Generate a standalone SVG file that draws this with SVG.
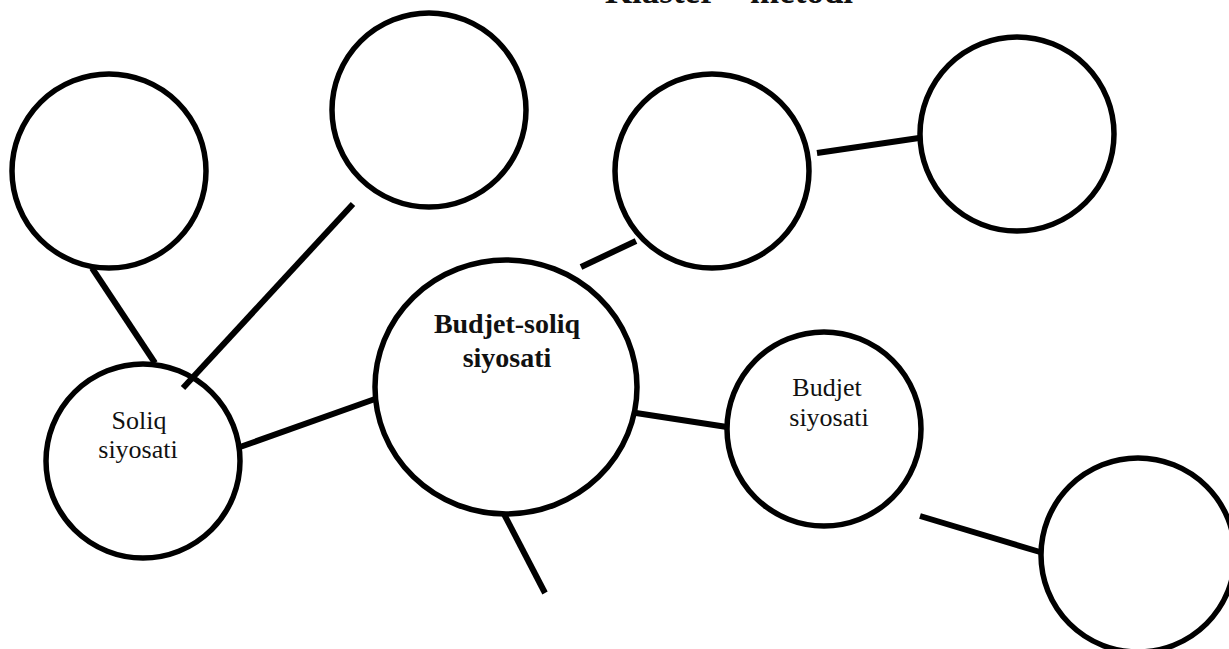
<svg xmlns="http://www.w3.org/2000/svg" width="1229" height="649" viewBox="0 0 1229 649">
<style>
.n{fill:#fff;stroke:#000;stroke-width:5.5}
.c{stroke:#000;stroke-width:6;stroke-linecap:butt}
.t{font-family:"Liberation Serif","Times New Roman",serif;fill:#111;text-anchor:middle}
.b{font-weight:bold;font-size:28px}
.r{font-size:26px}
</style>
<rect width="1229" height="649" fill="#fff"/>
<text class="t b" x="729" y="3" style="font-size:35px">Klaster – metodi</text>
<g id="n1"><circle class="n" cx="109" cy="171" r="97"/></g>
<g id="n2"><circle class="n" cx="429" cy="110" r="97"/></g>
<g id="n3"><circle class="n" cx="712" cy="171" r="97"/></g>
<g id="n4"><circle class="n" cx="1017" cy="134" r="97"/></g>
<g id="n5"><circle class="n" cx="1138" cy="555" r="97"/></g>
<g id="center"><ellipse class="n" cx="506" cy="387" rx="131" ry="127"/>
<text class="t b" x="507" y="333">Budjet-soliq</text>
<text class="t b" x="507" y="367">siyosati</text></g>
<g id="soliq"><circle class="n" cx="143" cy="461" r="97"/>
<text class="t r" x="139" y="429">Soliq</text>
<text class="t r" x="138" y="458">siyosati</text></g>
<g id="budjet"><circle class="n" cx="824" cy="429" r="97"/>
<text class="t r" x="827" y="396">Budjet</text>
<text class="t r" x="829" y="426">siyosati</text></g>
<g id="connectors">
<line class="c" x1="92" y1="268" x2="155" y2="363"/>
<line class="c" x1="353" y1="204" x2="183" y2="388"/>
<line class="c" x1="240" y1="447" x2="375" y2="399"/>
<line class="c" x1="581" y1="267" x2="636" y2="241"/>
<line class="c" x1="817" y1="153" x2="919" y2="138"/>
<line class="c" x1="636" y1="413" x2="727" y2="427"/>
<line class="c" x1="504" y1="514" x2="545" y2="593"/>
<line class="c" x1="920" y1="516" x2="1040" y2="552"/>
</g>
</svg>
